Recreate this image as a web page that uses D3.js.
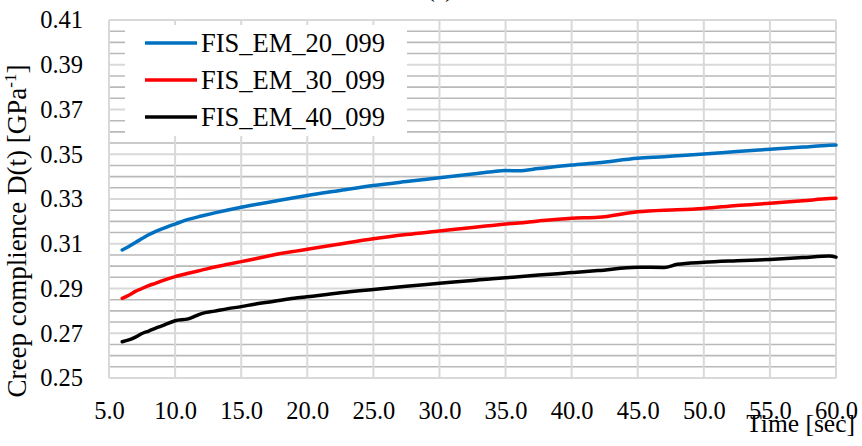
<!DOCTYPE html>
<html>
<head>
<meta charset="utf-8">
<script src="https://cdn.jsdelivr.net/npm/d3@7"></script>
<style>
  html, body { margin: 0; padding: 0; background: #fff; }
</style>
</head>
<body>
<svg id="chart" width="862" height="446"></svg>
<script>
// Time axis samples [sec]
const time = [6, 6.5, 7, 7.5, 8, 8.5, 9, 10, 11, 12, 13, 14, 15, 16, 17.5, 19, 20, 22.5, 25, 27.5, 30, 32.5, 34, 35, 36, 37.5, 40, 42, 45, 47, 48, 50, 52.5, 55, 57.5, 59.5, 60];

// Creep compliance D(t) [GPa^-1] per specimen
const em20 = [0.3072, 0.3088, 0.3106, 0.3123, 0.3140, 0.3154, 0.3166, 0.3188, 0.3209, 0.3224, 0.3238, 0.3251, 0.3263, 0.3274, 0.3290, 0.3306, 0.3316, 0.3338, 0.3360, 0.3378, 0.3395, 0.3412, 0.3422, 0.3427, 0.3426, 0.3436, 0.3452, 0.3462, 0.3482, 0.3489, 0.3493, 0.3501, 0.3512, 0.3522, 0.3532, 0.3540, 0.3541];
const em30 = [0.2856, 0.2870, 0.2887, 0.2900, 0.2913, 0.2923, 0.2934, 0.2953, 0.2968, 0.2982, 0.2996, 0.3008, 0.3020, 0.3032, 0.3051, 0.3066, 0.3075, 0.3099, 0.3122, 0.3141, 0.3157, 0.3173, 0.3182, 0.3188, 0.3193, 0.3202, 0.3214, 0.3218, 0.3243, 0.3250, 0.3252, 0.3258, 0.3271, 0.3281, 0.3292, 0.3302, 0.3303];
const em40 = [0.2662, 0.2670, 0.2683, 0.2699, 0.2710, 0.2722, 0.2733, 0.2756, 0.2764, 0.2788, 0.2799, 0.2810, 0.2819, 0.2830, 0.2843, 0.2856, 0.2863, 0.2881, 0.2896, 0.2910, 0.2923, 0.2936, 0.2944, 0.2948, 0.2953, 0.2960, 0.2971, 0.2980, 0.2995, 0.2994, 0.3008, 0.3017, 0.3024, 0.3030, 0.3038, 0.3045, 0.3040];

const seriesNames = ["FIS_EM_20_099", "FIS_EM_30_099", "FIS_EM_40_099"];
const seriesColors = ["#0070C0", "#FF0000", "#000000"];

// Tick labels
const xTicks = [5, 10, 15, 20, 25, 30, 35, 40, 45, 50, 55, 60];
const yTicks = [0.25, 0.27, 0.29, 0.31, 0.33, 0.35, 0.37, 0.39, 0.41];
const yMinor = d3.range(0, 33).map(i => 0.25 + i * 0.005);

const FONT = '"Liberation Serif", "Times New Roman", serif';

const svg = d3.select("#chart");
const x = d3.scaleLinear().domain([5, 60]).range([109, 836]);
const y = d3.scaleLinear().domain([0.25, 0.41]).range([378, 20]);

const grid = svg.append("g");
// minor horizontal gridlines
grid.selectAll("line.minor").data(yMinor.filter(v => !yTicks.some(t => Math.abs(t - v) < 1e-6)))
  .join("line")
  .attr("x1", x(5)).attr("x2", x(60))
  .attr("y1", d => y(d)).attr("y2", d => y(d))
  .attr("stroke", "#b9b9b9").attr("stroke-width", 1.6);
// major horizontal gridlines
grid.selectAll("line.hmaj").data(yTicks).join("line")
  .attr("x1", x(5)).attr("x2", x(60))
  .attr("y1", d => y(d)).attr("y2", d => y(d))
  .attr("stroke", "#d9d9d9").attr("stroke-width", 2);
// vertical gridlines
grid.selectAll("line.v").data(xTicks).join("line")
  .attr("x1", d => x(d)).attr("x2", d => x(d))
  .attr("y1", y(0.41)).attr("y2", y(0.25))
  .attr("stroke", "#d9d9d9").attr("stroke-width", 2);

// Axes (labels only)
const xAxis = svg.append("g").attr("transform", `translate(0,${y(0.25)})`)
  .call(d3.axisBottom(x).tickValues(xTicks).tickFormat(d3.format(".1f")).tickSize(0));
const yAxis = svg.append("g").attr("transform", `translate(${x(5)},0)`)
  .call(d3.axisLeft(y).tickValues(yTicks).tickFormat(d3.format(".2f")).tickSize(0).tickPadding(26));
[xAxis, yAxis].forEach(a => {
  a.attr("font-family", null).attr("font-size", null);
  a.select(".domain").remove();
  a.selectAll("text").style("font-family", FONT).attr("font-size", 24.5).attr("fill", "#000");
});
xAxis.selectAll("text").attr("y", 41).attr("dy", null);

// Curves
const line = d3.line().x((d, i) => x(time[i])).y(d => y(d)).curve(d3.curveMonotoneX);
[em20, em30, em40].forEach((vals, k) => {
  svg.append("path").datum(vals)
    .attr("d", line)
    .attr("fill", "none")
    .attr("stroke", seriesColors[k])
    .attr("stroke-width", 3.5)
    .attr("stroke-linejoin", "round")
    .attr("stroke-linecap", "round");
});

// Legend
const legend = svg.append("g");
legend.append("rect").attr("x", 125).attr("y", 25).attr("width", 282).attr("height", 111).attr("fill", "#fff");
seriesNames.forEach((name, k) => {
  const ly = 43 + k * 37;
  legend.append("line").attr("x1", 145).attr("x2", 197).attr("y1", ly).attr("y2", ly)
    .attr("stroke", seriesColors[k]).attr("stroke-width", 3.5);
  legend.append("text").attr("x", 201).attr("y", ly + 9)
    .style("font-family", FONT)
    .attr("font-size", 26.5).attr("fill", "#000").text(name);
});

// Title (partly above the canvas)
svg.append("text").attr("x", 440).attr("y", -3).attr("text-anchor", "middle")
  .style("font-family", FONT).attr("font-size", 24).text("(a)");

// Axis titles
svg.append("text").attr("x", 855).attr("y", 432).attr("text-anchor", "end")
  .style("font-family", FONT).attr("font-size", 25.5).text("Time [sec]");
const yt = svg.append("text").attr("transform", "translate(26,231) rotate(-90)")
  .attr("text-anchor", "middle").style("font-family", FONT).attr("font-size", 27);
yt.append("tspan").text("Creep complience D(t) [GPa");
yt.append("tspan").attr("font-size", 17).attr("dy", -10).text("-1");
yt.append("tspan").attr("dy", 10).text("]");
</script>
</body>
</html>
